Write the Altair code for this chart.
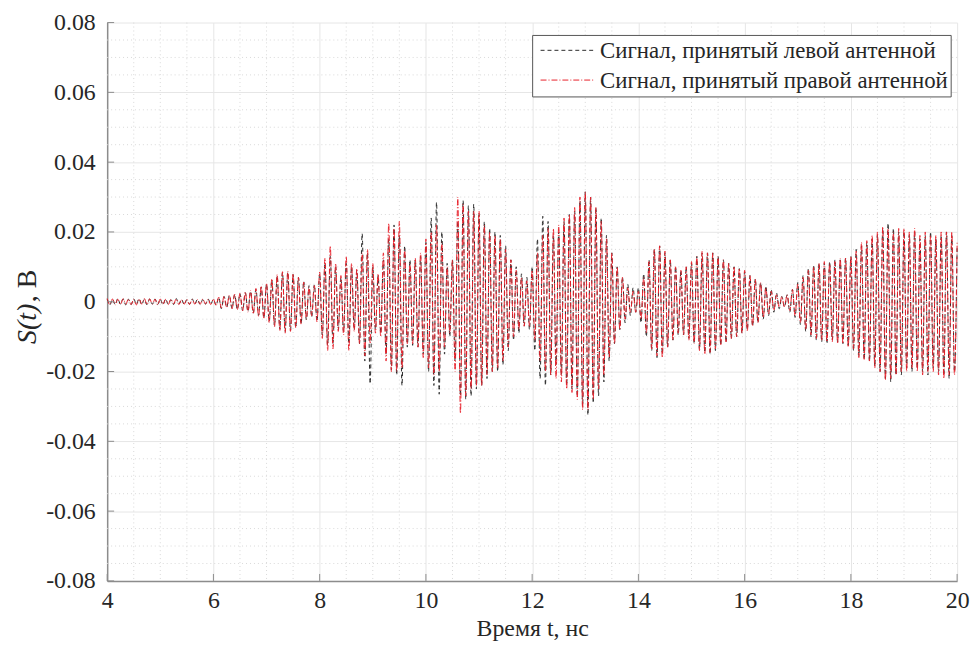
import altair as alt
import pandas as pd

# ---------------- data ----------------
T_START, T_END = 4.0, 20.0          # ns
LEFT = "Сигнал, принятый левой антенной"
RIGHT = "Сигнал, принятый правой антенной"

# successive extreme values (mV), one every half period (0.05 ns), 4 ns ... 20 ns
left_mV = [
    0.8, -0.9, 0.7, -0.8, 0.9, -0.7, 0.8, -0.9, 0.7, -0.8, 0.8, -0.7, 0.9, -0.8, 0.7, -0.9, 0.8, -0.7, 0.8, -0.8,   # 4
    0.7, -0.9, 0.8, -0.7, 0.6, -0.8, 0.9, -0.7, 0.7, -0.8, 0.6, -0.7, 0.8, -0.6, 0.7, -0.8, 0.6, -0.7, 0.8, -0.7,   # 5
    0.7, -1.0, 1.2, -2.0, 1.5, -1.6, 1.8, -1.9, 2.0, -2.2, 2.3, -2.5, 2.6, -2.8, 3.0, -3.3, 3.6, -3.9, 4.2, -4.6,   # 6
    5.0, -5.6, 6.2, -6.8, 7.4, -7.9, 8.3, -8.6, 8.5, -8.2, 7.8, -7.4, 7.0, -6.4, 5.8, -5.2, 4.6, -4.3, 4.8, -5.6,   # 7
    8.0, -9.5, 11.0, -12.5, 13.0, -12.0, 10.0, -8.0, 7.0, -8.5, 11.0, -12.0, 10.0, -8.0, 9.0, -12.0, 19.5, -17.0, 14.0, -23.5,  # 8
    10, -8, 7.5, -9, 12, -15, 18, -19.5, 22, -21, 19, -24, 16, -13, 12, -12.5, 12, -13, 13, -15,                    # 9
    17, -20, 24, -24, 28.5, -26.5, 20, -15, 11, -10, 12, -17, 23, -27, 29, -28, 27.5, -27, 28, -25,                 # 10
    25, -24, 23, -22, 21, -20, 20, -20, 19, -18, 16, -14, 12, -11, 10, -9, 8, -7, 7, -8,                            # 11
    10, -14, 18, -22, 24.5, -24, 23, -21, 19, -18, 20, -21, 23, -24, 25, -25, 26, -27, 29, -30,                     # 12
    31.5, -32.5, 30, -29, 27, -27, 24, -23, 19, -17, 14, -12, 10, -8, 7, -6, 5, -4, 4, -3,                          # 13
    4, -6, 8, -10, 12, -14, 15, -16, 16, -15, 14, -13, 12, -11, 10, -9.5, 9, -9.5, 10, -10.5,                       # 14
    11, -12, 13, -13.5, 14, -14.5, 14, -15, 14, -14, 13, -12.5, 12, -11.5, 11, -10.5, 10, -10, 9.5, -9,             # 15
    8.5, -8, 7.5, -7, 6.5, -6, 5.5, -5, 4.5, -4, 3.5, -3, 2.5, -2, 1.5, -1.5, 2, -3, 3.5, -4.5,                    # 16
    5.5, -6.5, 7.5, -8.5, 9.5, -10, 10.5, -11, 11, -11.5, 11, -12, 11.5, -11, 12, -11.5, 12, -12, 12.5, -12.5,      # 17
    13, -14, 15, -15.5, 16, -16.5, 17, -17, 18, -18.5, 19, -20, 21, -22, 22.5, -23, 21, -21, 20, -21,               # 18
    20, -19, 19, -20, 20, -19, 18, -20, 19, -21, 20, -19, 18, -20, 19, -21, 20, -22, 19, -20,                       # 19
    16,                                                                                                              # 20
]
right_mV = [
    0.9, -0.8, 0.8, -0.9, 0.7, -0.8, 0.9, -0.7, 0.8, -0.8, 0.7, -0.9, 0.8, -0.7, 0.9, -0.8, 0.8, -0.7, 0.7, -0.9,   # 4
    0.8, -0.7, 0.7, -0.8, 0.7, -0.6, 0.8, -0.8, 0.6, -0.7, 0.7, -0.8, 0.7, -0.7, 0.6, -0.7, 0.8, -0.6, 0.7, -0.8,   # 5
    0.8, -1.1, 1.3, -1.8, 1.6, -1.7, 1.9, -2.0, 2.2, -2.3, 2.4, -2.6, 2.8, -3.0, 3.2, -3.5, 3.8, -4.2, 4.5, -4.9,   # 6
    5.3, -6.0, 6.6, -7.2, 7.8, -8.3, 8.6, -9.0, 8.8, -8.5, 8.0, -7.5, 7.0, -6.4, 5.6, -5.0, 4.3, -4.0, 4.6, -5.8,   # 7
    8.5, -10.5, 12.5, -14.0, 16.0, -13.5, 11.0, -8.5, 7.5, -9.5, 13.0, -14.0, 11.0, -8.5, 9.5, -12.0, 14.0, -15.5, 15.0, -12.0,  # 8
    11, -9, 8, -10, 14, -17, 22.5, -20, 21, -20, 23, -19, 15, -12, 11, -12, 12.5, -13, 14, -16,                     # 9
    18, -19, 20, -21, 22, -20, 17, -13, 10, -9, 12, -20, 30, -32, 28, -27, 26, -25, 26, -24,                        # 10
    26, -24, 22, -21, 20, -20, 19, -19, 18, -17, 15, -13, 12, -10, 9, -8, 7, -7, 6, -7,                             # 11
    9, -11, 14, -17, 19, -20, 21, -21, 21, -22, 22, -23, 24, -25, 25, -26, 27, -28, 30, -31,                        # 12
    31.5, -31, 30, -28, 27, -25, 23, -21, 18, -16, 14, -12, 10, -8, 7, -5, 4, -3, 3, -3,                            # 13
    3, -5, 7, -9, 11.5, -13.5, 15, -15.5, 16, -16, 14.5, -13, 12, -11, 10, -9, 9, -9.5, 10, -11,                    # 14
    11.5, -12, 13, -14, 14.5, -15, 14, -14.5, 14, -13.5, 13, -12.5, 12, -11.5, 11, -10.5, 10, -10, 9.5, -9,         # 15
    9, -8.5, 7.5, -7, 6.5, -6, 5.5, -4.5, 4, -3.5, 3, -2.5, 2, -1.5, 1.5, -1.5, 2, -2.5, 3.5, -4,                  # 16
    5, -6, 7, -8, 9, -9.5, 10, -10.5, 11, -11, 11.5, -11.5, 11, -11.5, 11.5, -12, 12.5, -12, 12.5, -13,             # 17
    13, -13.5, 14.5, -16, 17, -16.5, 17.5, -17, 19, -19, 20, -20, 21.5, -22.5, 21, -22, 20, -21, 21, -20,           # 18
    21, -20, 20, -19, 21, -20, 19, -21, 20, -20, 19, -20, 19, -21, 20, -22, 20, -21, 20, -21,                       # 19
    17,                                                                                                              # 20
]

x_ticks = [4, 6, 8, 10, 12, 14, 16, 18, 20]
y_ticks = [-0.08, -0.06, -0.04, -0.02, 0.0, 0.02, 0.04, 0.06, 0.08]
x_minor = [4 + 0.5 * i for i in range(33) if (4 + 0.5 * i) % 2 != 0]
y_minor = [round(-0.08 + 0.005 * i, 3) for i in range(33) if i % 4 != 0]


def frame(vals, name):
    n = len(vals)
    step = (T_END - T_START) / (n - 1)
    return pd.DataFrame({
        "t": [T_START + i * step for i in range(n)],
        "s": [v / 1000.0 for v in vals],
        "series": name,
        "idx": list(range(n)),
    })


df = pd.concat([frame(left_mV, LEFT), frame(right_mV, RIGHT)], ignore_index=True)

# ---------------- chart ----------------
W, H = 857, 563
FONT = "'Liberation Serif', 'Times New Roman', serif"
TXT = "#262626"
COLORS = ["#2b2b2b", "#e8202a"]
DASHES = [[4, 3], [6, 2, 1, 2]]

xs = alt.Scale(domain=[4, 20], nice=False, zero=False)
ys = alt.Scale(domain=[-0.08, 0.08], nice=False, zero=False)

minor_x = alt.Chart(pd.DataFrame({"x": x_minor})).mark_rule(
    color="#d9d9d9", strokeWidth=1, strokeDash=[1, 3]
).encode(x=alt.X("x:Q", scale=xs))
minor_y = alt.Chart(pd.DataFrame({"y": y_minor})).mark_rule(
    color="#d9d9d9", strokeWidth=1, strokeDash=[1, 3]
).encode(y=alt.Y("y:Q", scale=ys))

lines = alt.Chart(df).mark_line(strokeWidth=1, interpolate="monotone").encode(
    x=alt.X("t:Q", scale=xs,
            axis=alt.Axis(values=x_ticks, title="Время t, нс", grid=True,
                          labelPadding=8, titlePadding=4, labelFlush=False,
                          labelOverlap=False)),
    y=alt.Y("s:Q", scale=ys,
            axis=alt.Axis(values=y_ticks, title=None, grid=True, labelPadding=12,
                          labelFlush=False, labelOverlap=False,
                          labelExpr="datum.value == 0 ? '0' : (datum.value < 0 ? '-' : '') + format(abs(datum.value), '.2f')")),
    color=alt.Color("series:N", scale=alt.Scale(domain=[LEFT, RIGHT], range=COLORS), legend=None),
    strokeDash=alt.StrokeDash("series:N", scale=alt.Scale(domain=[LEFT, RIGHT], range=DASHES), legend=None),
    detail="series:N",
    order="idx:Q",
)

tick_y = alt.Chart(pd.DataFrame({"y": y_ticks})).mark_rule(color="#8c8c8c", strokeWidth=1).encode(
    y=alt.Y("y:Q", scale=ys), x=alt.value(0), x2=alt.value(7))
tick_x = alt.Chart(pd.DataFrame({"x": x_ticks})).mark_rule(color="#8c8c8c", strokeWidth=1).encode(
    x=alt.X("x:Q", scale=xs), y=alt.value(H), y2=alt.value(H - 7))

ytitle1 = alt.Chart(pd.DataFrame({"txt": ["S(t)"]})).mark_text(
    angle=270, align="left", baseline="alphabetic", font=FONT, fontStyle="italic",
    fontSize=28, color=TXT
).encode(x=alt.value(-72), y=alt.value(324), text="txt:N")
ytitle2 = alt.Chart(pd.DataFrame({"txt": [", В"]})).mark_text(
    angle=270, align="left", baseline="alphabetic", font=FONT,
    fontSize=28, color=TXT
).encode(x=alt.value(-72), y=alt.value(282), text="txt:N")

# legend drawn by hand (box, line samples, labels)
LX0, LX1, LY0, LY1 = 429, 851, 13, 75
ROW_Y = [28, 58]
leg_box = alt.Chart(pd.DataFrame({"a": [0]})).mark_rect(
    fill="white", stroke="#555555", strokeWidth=1
).encode(x=alt.value(LX0), x2=alt.value(LX1), y=alt.value(LY0), y2=alt.value(LY1))
leg_items = []
for i, name in enumerate([LEFT, RIGHT]):
    sub = pd.DataFrame({"series": [name]})
    leg_items.append(alt.Chart(sub).mark_rule(
        color=COLORS[i], strokeWidth=1, strokeDash=DASHES[i]
    ).encode(x=alt.value(LX0 + 8), x2=alt.value(LX0 + 63), y=alt.value(ROW_Y[i])))
    leg_items.append(alt.Chart(sub).mark_text(
        align="left", baseline="middle", font=FONT, fontSize=23, color=TXT
    ).encode(x=alt.value(LX0 + 68), y=alt.value(ROW_Y[i] + 1), text="series:N"))

chart = alt.layer(minor_x, minor_y, lines, tick_y, tick_x, ytitle1, ytitle2,
                  leg_box, *leg_items).properties(
    width=W, height=H,
    autosize=alt.AutoSizeParams(type="none"),
    padding={"left": 100, "top": 12, "right": 15, "bottom": 69},
).configure_view(stroke=None).configure_axis(
    labelFont=FONT, labelFontSize=24, labelColor=TXT,
    titleFont=FONT, titleFontSize=24, titleFontWeight="normal", titleColor=TXT,
    gridColor="#e6e6e6", gridWidth=1,
    domainColor="#8c8c8c", domainWidth=1.5, ticks=False,
)

chart.save("out.html", embed_options={"renderer": "svg", "actions": False})
